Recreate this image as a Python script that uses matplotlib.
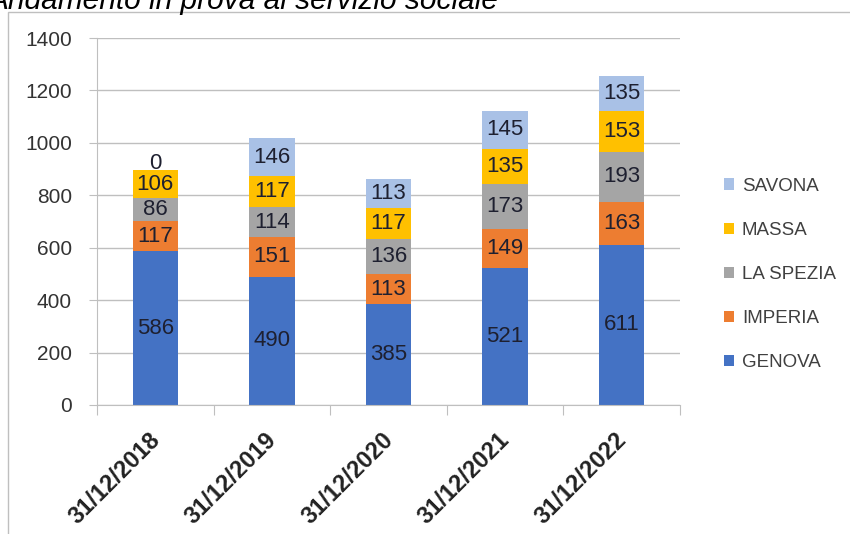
import matplotlib.pyplot as plt
import matplotlib.transforms as mtransforms
from matplotlib.patches import Rectangle

dates = ["31/12/2018", "31/12/2019", "31/12/2020", "31/12/2021", "31/12/2022"]
genova = [586, 490, 385, 521, 611]
imperia = [117, 151, 113, 149, 163]
la_spezia = [86, 114, 136, 173, 193]
massa = [106, 117, 117, 135, 153]
savona = [0, 146, 113, 145, 135]

series = [("GENOVA", genova, "#4472C4"),
          ("IMPERIA", imperia, "#ED7D31"),
          ("LA SPEZIA", la_spezia, "#A5A5A5"),
          ("MASSA", massa, "#FFC000"),
          ("SAVONA", savona, "#A9C1E6")]

plt.rcParams['font.family'] = ['Liberation Sans', 'DejaVu Sans']

fig = plt.figure(figsize=(8.5, 5.34), dpi=100)

# chart frame
fig.patches.append(Rectangle((8 / 850, -0.05), 1.0, 1 - 12 / 534 + 0.05,
                             transform=fig.transFigure, fill=False,
                             edgecolor="#BFBFBF", linewidth=1.0))
fig.text(-0.014, 1 - 9 / 534, "Andamento in prova ai servizio sociale", fontsize=21.5,
         style="italic", va="baseline", ha="left", color="#000000")

ax = fig.add_axes([97 / 850, 1 - 405 / 534, (680 - 97) / 850, (405 - 38) / 534])
x = list(range(len(dates)))
bottom = [0] * len(dates)
handles = []
for name, vals, col in series:
    b = ax.bar(x, vals, 0.39, bottom=bottom, color=col, label=name, zorder=2)
    handles.append(b)
    for i, v in enumerate(vals):
        if v == 0:
            ypos = bottom[i] + 25
        else:
            ypos = bottom[i] + v / 2
        ax.text(i, ypos, str(v), ha="center", va="center", fontsize=16,
                color="#1E2030", zorder=3)
    bottom = [bo + v for bo, v in zip(bottom, vals)]

ax.set_ylim(0, 1400)
ax.set_xlim(-0.5, len(dates) - 0.5)
ax.set_yticks(range(0, 1401, 200))
ax.yaxis.grid(True, color="#BFBFBF", linewidth=1.0, zorder=0)
ax.set_axisbelow(True)
for s in ["top", "right"]:
    ax.spines[s].set_visible(False)
ax.spines["bottom"].set_color("#BFBFBF")
ax.spines["left"].set_color("#BFBFBF")
ax.tick_params(axis="y", length=6, color="#BFBFBF", labelsize=15, pad=12,
               labelcolor="#333333")

ax.set_xticks([i - 0.5 for i in range(len(dates) + 1)], minor=False)
ax.set_xticklabels([""] * (len(dates) + 1))
ax.tick_params(axis="x", which="major", direction="out", length=7, color="#BFBFBF")
ax.set_xticks(x, minor=True)
ax.set_xticklabels(dates, minor=True, rotation=45, ha="right",
                   rotation_mode="anchor", fontsize=17, fontweight="bold",
                   color="#222222")
ax.tick_params(axis="x", which="minor", length=0, pad=17)
shift = mtransforms.ScaledTranslation(-7 / 100, 0, fig.dpi_scale_trans)
for lbl in ax.get_xticklabels(minor=True):
    lbl.set_transform(lbl.get_transform() + shift)

leg = fig.legend(handles[::-1], [s[0] for s in series][::-1],
                 loc="center left", bbox_to_anchor=(0.832, 0.486),
                 frameon=False, fontsize=13.5, handlelength=0.55, handleheight=0.55,
                 handletextpad=0.4, labelspacing=1.45, labelcolor="#404040")

fig.savefig("out.png", dpi=100)
